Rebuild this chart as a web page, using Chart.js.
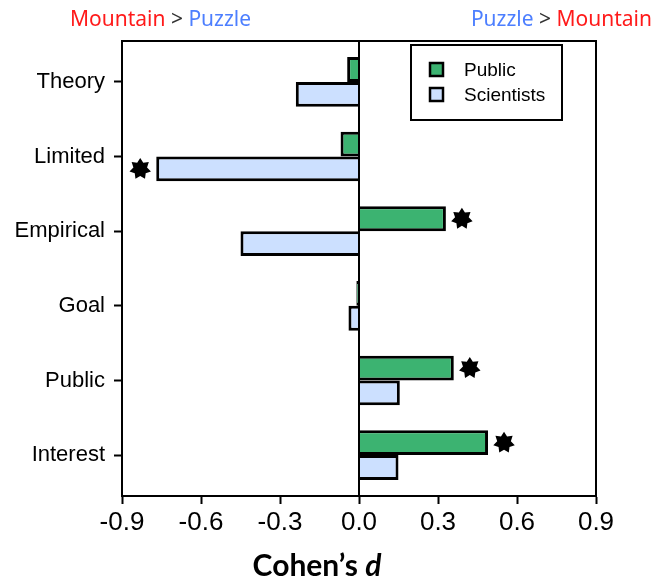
<!DOCTYPE html>
<html>
<head>
<meta charset="utf-8">
<script src="https://cdn.jsdelivr.net/npm/chart.js@4.4.1/dist/chart.umd.min.js"></script>
<style>
  html, body { margin: 0; padding: 0; background: #fff; }
  #wrap { width: 667px; height: 580px; position: relative; }
</style>
</head>
<body>
<div id="wrap"><canvas id="c" width="667" height="580"></canvas></div>
<script>
// ---- data ----
const categories = ["Theory", "Limited", "Empirical", "Goal", "Public", "Interest"];
const publicValues = [-0.045, -0.07, 0.33, -0.01, 0.36, 0.49];
const scientistValues = [-0.24, -0.77, -0.45, -0.04, 0.155, 0.15];
const publicSignificant = [false, false, true, false, true, true];
const scientistSignificant = [false, true, false, false, false, false];
const xTicks = [-0.9, -0.6, -0.3, 0.0, 0.3, 0.6, 0.9];
const seriesNames = ["Public", "Scientists"];

const GREEN = "#3cb371";
const BLUE = "#cce0ff";

function drawStar(ctx, cx, cy, rOut, rIn, n) {
  ctx.beginPath();
  for (let i = 0; i < 2 * n; i++) {
    const r = i % 2 === 0 ? rOut : rIn;
    const a = -Math.PI / 2 + i * Math.PI / n;
    const x = cx + r * Math.cos(a), y = cy + r * Math.sin(a);
    if (i === 0) ctx.moveTo(x, y); else ctx.lineTo(x, y);
  }
  ctx.closePath();
  ctx.fillStyle = "#000";
  ctx.fill();
}

const decorPlugin = {
  id: "decor",
  afterDatasetsDraw(chart) {
    const ctx = chart.ctx;
    const ca = chart.chartArea;
    const xs = chart.scales.x;
    ctx.save();
    // zero line
    ctx.strokeStyle = "#000";
    ctx.lineWidth = 2;
    const x0 = xs.getPixelForValue(0);
    ctx.beginPath(); ctx.moveTo(x0, ca.top); ctx.lineTo(x0, ca.bottom); ctx.stroke();
    // frame
    ctx.strokeRect(ca.left, ca.top, ca.right - ca.left, ca.bottom - ca.top);
    // stars
    const sigs = [publicSignificant, scientistSignificant];
    chart.data.datasets.forEach((ds, di) => {
      const meta = chart.getDatasetMeta(di);
      meta.data.forEach((bar, i) => {
        if (!sigs[di][i]) return;
        const v = ds.data[i];
        const sx = bar.x + (v >= 0 ? 16 : -16);
        drawStar(ctx, sx, bar.y, 11, 7, 7);
      });
    });
    // legend
    const lx = 411, ly = 45, lw = 151, lh = 75;
    ctx.lineWidth = 2;
    ctx.strokeStyle = "#000";
    ctx.fillStyle = "#fff";
    ctx.fillRect(lx, ly, lw, lh);
    ctx.strokeRect(lx, ly, lw, lh);
    chart.data.datasets.forEach((ds, di) => {
      const yy = 70 + di * 25;
      ctx.fillStyle = ds.backgroundColor;
      ctx.fillRect(430, yy - 7, 13, 13);
      ctx.lineWidth = 2.5;
      ctx.strokeRect(430, yy - 7, 13, 13);
      ctx.fillStyle = "#000";
      ctx.font = "19px 'Liberation Sans', Arial, sans-serif";
      ctx.textBaseline = "middle";
      ctx.textAlign = "left";
      ctx.fillText(ds.label, 464, yy + 1);
    });
    // top annotations
    ctx.font = "21px 'Noto Sans', sans-serif";
    ctx.textBaseline = "middle";
    ctx.textAlign = "left";
    function parts(arr, x, y, alignRight) {
      let total = 0;
      arr.forEach(p => total += ctx.measureText(p[0]).width);
      let cx = alignRight ? x - total : x;
      arr.forEach(p => { ctx.fillStyle = p[1]; ctx.fillText(p[0], cx, y); cx += ctx.measureText(p[0]).width; });
    }
    const RED = "#ff1a1a", PBLUE = "#4d7fff";
    parts([["Mountain", RED], [" > ", "#333"], ["Puzzle", PBLUE]], 70, 20, false);
    parts([["Puzzle", PBLUE], [" > ", "#333"], ["Mountain", RED]], 652, 20, true);
    // axis title
    ctx.fillStyle = "#000";
    ctx.textBaseline = "alphabetic";
    const f1 = "bold 30px Lato, 'Open Sans', sans-serif";
    const f2 = "italic bold 30px Lato, 'Open Sans', sans-serif";
    ctx.font = f1; const w1 = ctx.measureText("Cohen\u2019s ").width;
    ctx.font = f2; const w2 = ctx.measureText("d").width;
    let tx = 317 - (w1 + w2) / 2;
    ctx.font = f1; ctx.fillText("Cohen\u2019s ", tx, 576);
    ctx.font = f2; ctx.fillText("d", tx + w1, 576);
    ctx.restore();
  }
};

new Chart(document.getElementById("c"), {
  type: "bar",
  data: {
    labels: categories,
    datasets: [
      { label: seriesNames[0], data: publicValues, backgroundColor: GREEN, borderColor: "#000", borderWidth: 3 },
      { label: seriesNames[1], data: scientistValues, backgroundColor: BLUE, borderColor: "#000", borderWidth: 3 }
    ]
  },
  options: {
    indexAxis: "y",
    responsive: false,
    animation: false,
    devicePixelRatio: 1,
    layout: { padding: { top: 41, right: 71, left: 0, bottom: 0 } },
    datasets: { bar: { categoryPercentage: 0.665, barPercentage: 1.0 } },
    plugins: { legend: { display: false }, tooltip: { enabled: false } },
    scales: {
      x: {
        type: "linear",
        min: -0.9, max: 0.9,
        afterBuildTicks(scale) { scale.ticks = xTicks.map(v => ({ value: v })); },
        afterFit(scale) { scale.height = 84; },
        ticks: {
          color: "#000",
          font: { size: 26, family: "'Liberation Sans', Arial, sans-serif" },
          padding: 3,
          maxRotation: 0,
          callback: v => v.toFixed(1)
        },
        grid: { drawOnChartArea: false, drawTicks: true, tickLength: 8, tickColor: "#000", tickWidth: 2 },
        border: { display: true, color: "#000", width: 2 }
      },
      y: {
        type: "category",
        offset: true,
        afterFit(scale) { scale.width = 122; },
        afterBuildTicks(scale) {
          // widen the outer margin slightly (about 0.55 category on each side)
          scale._startValue = -0.548;
          scale._valueRange = categories.length - 1 + 2 * 0.548;
        },
        ticks: {
          color: "#000",
          font: { size: 22, family: "'Liberation Sans', Arial, sans-serif" },
          padding: 9
        },
        grid: { offset: false, drawOnChartArea: false, drawTicks: true, tickLength: 8, tickColor: "#000", tickWidth: 2 },
        border: { display: true, color: "#000", width: 2 }
      }
    }
  },
  plugins: [decorPlugin]
});
</script>
</body>
</html>
